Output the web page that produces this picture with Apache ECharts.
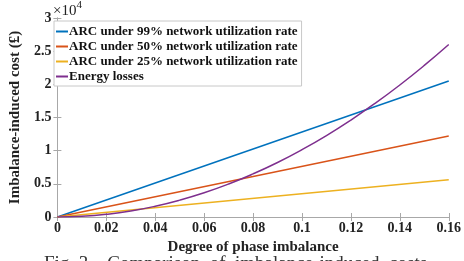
<!DOCTYPE html>
<html>
<head>
<meta charset="utf-8">
<script src="https://cdn.jsdelivr.net/npm/echarts@6/dist/echarts.min.js"></script>
<style>
  html, body { margin: 0; padding: 0; background: #fff; }
  #chart { width: 464px; height: 261px; }
</style>
</head>
<body>
<div id="chart"></div>
<script>
// data (x = degree of phase imbalance, y = cost in £)
const seriesNames = [
  'ARC under 99% network utilization rate',
  'ARC under 50% network utilization rate',
  'ARC under 25% network utilization rate',
  'Energy losses'
];
const arc99 = [[0, 0], [0.16, 20500]];
const arc50 = [[0, 0], [0.16, 12200]];
const arc25 = [[0, 0], [0.16, 5600]];
const energyLosses = [
  [0, 0], [0.01, 100], [0.02, 400], [0.03, 900], [0.04, 1620],
  [0.05, 2540], [0.06, 3650], [0.07, 4970], [0.08, 6500], [0.09, 8220],
  [0.10, 10150], [0.11, 12280], [0.12, 14620], [0.13, 17160],
  [0.14, 19900], [0.15, 22850], [0.16, 26000]
];
const colors = ['#0072BD', '#D95319', '#EDB120', '#7E2F8E'];

const chart = echarts.init(document.getElementById('chart'));
const serif = 'Liberation Serif';

const axisLineStyle = { color: '#a8a8a8', width: 1 };

chart.setOption({
  animation: false,
  textStyle: { fontFamily: serif },
  grid: { left: 52, right: 15, top: 18, bottom: 44 },
  legend: {
    data: seriesNames,
    orient: 'vertical',
    left: 54,
    top: 21,
    itemWidth: 12,
    itemHeight: 2,
    itemGap: 2,
    icon: 'rect',
    padding: [4, 4, 3, 2],
    backgroundColor: '#fff',
    borderColor: '#c8c8c8',
    borderWidth: 1,
    textStyle: { fontFamily: serif, fontWeight: 'bold', fontSize: 13, color: '#111', padding: [0, 0, 0, -4] }
  },
  xAxis: [{
    type: 'value',
    min: 0, max: 0.16, interval: 0.02,
    name: 'Degree of phase imbalance',
    nameLocation: 'middle',
    nameGap: 19,
    nameTextStyle: { fontFamily: serif, fontWeight: 'bold', fontSize: 15, color: '#222' },
    axisLine: { lineStyle: axisLineStyle },
    axisTick: { inside: true, length: 4, lineStyle: axisLineStyle },
    splitLine: { show: false },
    axisLabel: {
      fontFamily: serif, fontWeight: 'bold', fontSize: 14, color: '#222', margin: 4,
      formatter: v => String(+v.toFixed(2))
    }
  }, {
    type: 'value',
    position: 'top',
    min: 0, max: 0.16, interval: 0.02,
    axisLine: { show: true, lineStyle: axisLineStyle },
    axisTick: { inside: true, length: 4, lineStyle: axisLineStyle },
    axisLabel: { show: false },
    splitLine: { show: false }
  }],
  yAxis: [{
    type: 'value',
    min: 0, max: 30000, interval: 5000,
    name: 'Imbalance-induced cost (£)',
    nameLocation: 'middle',
    nameGap: 27,
    nameTextStyle: { fontFamily: serif, fontWeight: 'bold', fontSize: 15, color: '#222' },
    axisLine: { show: true, lineStyle: axisLineStyle },
    axisTick: { show: true, inside: true, length: 4, lineStyle: axisLineStyle },
    splitLine: { show: false },
    axisLabel: {
      fontFamily: serif, fontWeight: 'bold', fontSize: 14, color: '#222', margin: 6,
      formatter: v => String(v / 10000)
    }
  }, {
    type: 'value',
    position: 'right',
    min: 0, max: 30000, interval: 5000,
    axisLine: { show: true, lineStyle: axisLineStyle },
    axisTick: { show: true, inside: true, length: 4, lineStyle: axisLineStyle },
    axisLabel: { show: false },
    splitLine: { show: false }
  }],
  graphic: [{
    type: 'text',
    left: 53,
    top: 0,
    style: {
      text: '{a|×10}{b|4}',
      rich: {
        a: { fontFamily: serif, fontSize: 15, fill: '#222', padding: [4, 0, 0, 0] },
        b: { fontFamily: serif, fontSize: 11, fill: '#222', verticalAlign: 'top' }
      }
    }
  }, {
    type: 'text',
    left: 44,
    top: 255,
    style: {
      text: 'Fig. 3.   Comparison  of  imbalance-induced  costs',
      fontFamily: serif, fontSize: 19, fill: '#333'
    }
  }],
  series: [
    { name: seriesNames[0], type: 'line', data: arc99, color: colors[0] },
    { name: seriesNames[1], type: 'line', data: arc50, color: colors[1] },
    { name: seriesNames[2], type: 'line', data: arc25, color: colors[2] },
    { name: seriesNames[3], type: 'line', data: energyLosses, color: colors[3], smooth: true }
  ].map(s => Object.assign(s, {
    showSymbol: false,
    lineStyle: { width: 1.5 },
    z: 3
  }))
});
</script>
</body>
</html>
